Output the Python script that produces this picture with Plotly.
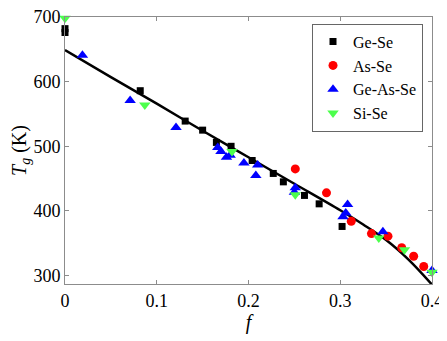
import plotly.graph_objects as go

# Ge-Se
gese_f = [0.0, 0.0, 0.082, 0.131, 0.150, 0.165, 0.181, 0.204, 0.227, 0.238, 0.261, 0.277, 0.302]
gese_t = [682, 676, 586, 539, 525, 506, 500, 478, 458, 445, 424, 411, 376]
# As-Se
asse_f = [0.251, 0.285, 0.312, 0.334, 0.352, 0.367, 0.380, 0.391]
asse_t = [465, 428, 384, 365, 361, 343, 330, 314]
# Ge-As-Se
geasse_f = [0.019, 0.071, 0.121, 0.1665, 0.170, 0.176, 0.180, 0.195, 0.210, 0.208, 0.251, 0.250,
            0.308, 0.306, 0.303, 0.3465, 0.400]
geasse_t = [641, 571, 529, 498, 492, 483, 486, 474, 471, 455, 436, 429,
            410, 397, 391, 368, 308]
# Si-Se
sise_f = [0.0, 0.087, 0.182, 0.251, 0.342, 0.370, 0.400]
sise_t = [698, 564, 492, 425, 358, 340, 305]
# fitted curve
fit_f = [0.0, 0.05, 0.1, 0.15, 0.2, 0.25, 0.3, 0.325, 0.35, 0.375, 0.4]
fit_t = [649, 607, 566, 524, 483, 442, 401, 379, 355, 324, 286]

font = "Liberation Serif"
fig = go.Figure()
fig.add_trace(go.Scatter(x=fit_f, y=fit_t, mode="lines", line=dict(color="black", width=2.5, shape="spline"),
                         showlegend=False, hoverinfo="skip"))
fig.add_trace(go.Scatter(x=gese_f, y=gese_t, mode="markers", name="Ge-Se",
                         marker=dict(symbol="square", size=7, color="black"), cliponaxis=False))
fig.add_trace(go.Scatter(x=asse_f, y=asse_t, mode="markers", name="As-Se",
                         marker=dict(symbol="circle", size=9, color="#ff0000"), cliponaxis=False))
fig.add_trace(go.Scatter(x=geasse_f, y=geasse_t, mode="markers", name="Ge-As-Se",
                         marker=dict(symbol="triangle-up", size=10, color="#0000ff"), cliponaxis=False))
fig.add_trace(go.Scatter(x=sise_f, y=sise_t, mode="markers", name="Si-Se",
                         marker=dict(symbol="triangle-down", size=10, color="#4cff4c"), cliponaxis=False))

axis_common = dict(showgrid=False, zeroline=False, showline=True, linecolor="#8c8c8c", linewidth=1,
                   mirror="ticks", ticks="inside", ticklen=4, tickcolor="#8c8c8c",
                   tickfont=dict(family=font, size=18, color="black"), automargin=False,
                   ticklabeloverflow="allow")
fig.update_xaxes(range=[0, 0.4], tickvals=[0, 0.1, 0.2, 0.3, 0.4], ticktext=["0", "0.1", "0.2", "0.3", "0.4"],
                 title=dict(text="<i>f</i>", font=dict(family=font, size=20, color="black"), standoff=4),
                 **axis_common)
fig.update_yaxes(range=[287, 700], tickvals=[300, 400, 500, 600, 700],
                 title=dict(text="<i>T</i><sub><i>g</i></sub> (K)", font=dict(family=font, size=20, color="black"),
                            standoff=6),
                 **axis_common)
fig.update_layout(font=dict(family=font, size=18, color="black"),
                  width=439, height=333, margin=dict(l=57, r=15, t=9, b=57, autoexpand=False),
                  plot_bgcolor="white", paper_bgcolor="white",
                  legend=dict(x=0.9755, y=0.975, xanchor="right", yanchor="top",
                              bordercolor="#666666", borderwidth=1, bgcolor="white",
                              font=dict(family=font, size=16, color="black"),
                              tracegroupgap=0, itemwidth=30))
fig.write_html("out.html")
